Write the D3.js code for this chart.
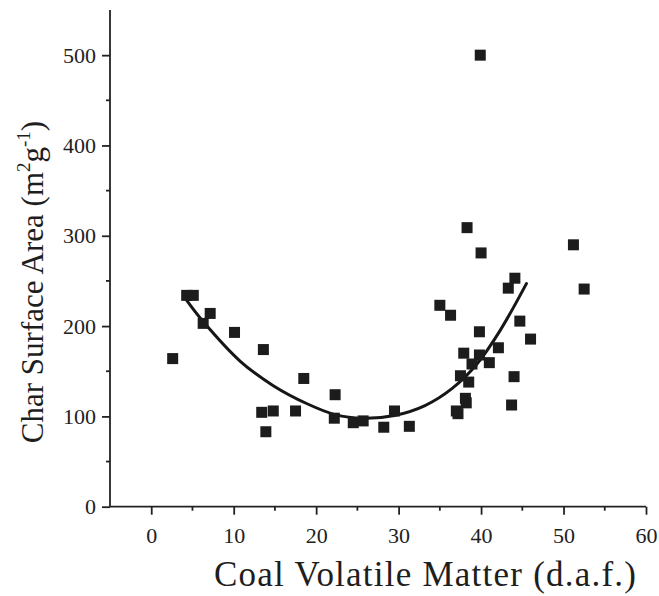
<!DOCTYPE html>
<html>
<head>
<meta charset="utf-8">
<script src="https://cdn.jsdelivr.net/npm/d3@7"></script>
<style>
	body { margin: 0; background: #fff; }
	svg { display: block; }
	.axis path, .axis line { stroke: #222; stroke-width: 1.8; }
	.title { font-family: "Liberation Serif", "Times New Roman", serif; fill: #1e1e1e; }
</style>
</head>
<body>
<div id="chart"></div>
<script>
// coal volatile matter (d.a.f.) vs char surface area
var volatileMatter = [2.6, 4.3, 5.1, 6.3, 7.15, 10.1, 13.6, 18.5, 22.3, 13.4, 14.8, 17.5, 13.9, 22.2,
	24.5, 25.7, 28.2, 29.5, 31.3, 38.3, 40.0, 51.2, 52.5, 44.1, 43.3, 35.0, 36.3, 44.7, 46.0,
	39.8, 37.9, 39.8, 38.9, 41.0, 42.1, 37.5, 38.5, 44.0, 38.1, 38.2, 37.0, 37.2, 43.7, 39.9];
var surfaceArea = [164, 234, 234, 203, 214, 193, 174, 142, 124, 104.5, 106, 106, 83, 98,
	93, 95, 88, 106, 89, 309, 281, 290, 241, 253, 242, 223, 212, 205.5, 185.6,
	193.7, 170, 168, 158, 159.5, 176, 145, 138, 144, 120, 115, 106, 103, 112.6, 500];

// fitted trend line
var fitX = [4.1, 6.3, 10.8, 14.8, 18.9, 22.3, 25.7, 29.5, 33.2, 36.5, 39.5, 42.3, 45.5];
var fitY = [231, 205, 161, 134, 114, 102, 98, 101, 112, 131, 158, 195, 247];

var xTicks = [0, 10, 20, 30, 40, 50, 60];
var xMinorTicks = [5, 15, 25, 35, 45, 55];
var yTicks = [0, 100, 200, 300, 400, 500];
var yMinorTicks = [50, 150, 250, 350, 450];

var width = 659,
		height = 596,
		serif = "'Liberation Serif', 'Times New Roman', serif";

var xScale = d3.scaleLinear().domain([-5, 60]).range([110, 646]);
var yScale = d3.scaleLinear().domain([0, 550]).range([506.7, 10]);

var svg = d3.select("#chart").append("svg")
		.attr("width", width)
		.attr("height", height);

// x axis
var xAxis = svg.append("g")
		.attr("class", "x axis")
		.attr("transform", "translate(0," + yScale(0) + ")")
		.call(d3.axisBottom(xScale).tickValues(xTicks).tickSize(8).tickPadding(13).tickSizeOuter(0));
xAxis.select(".domain").attr("d", "M" + xScale(-5) + ",0H" + xScale(60));
xAxis.selectAll(".minor")
		.data(xMinorTicks)
		.enter().append("line")
		.attr("class", "minor")
		.attr("x1", function(d) { return xScale(d); })
		.attr("x2", function(d) { return xScale(d); })
		.attr("y1", 0)
		.attr("y2", 4);

// y axis
var yAxis = svg.append("g")
		.attr("class", "y axis")
		.attr("transform", "translate(" + xScale(-5) + ",0)")
		.call(d3.axisLeft(yScale).tickValues(yTicks).tickSize(8).tickPadding(6).tickSizeOuter(0));
yAxis.select(".domain").attr("d", "M0," + yScale(0) + "V" + yScale(550));
yAxis.selectAll(".minor")
		.data(yMinorTicks)
		.enter().append("line")
		.attr("class", "minor")
		.attr("x1", 0)
		.attr("x2", -4)
		.attr("y1", function(d) { return yScale(d); })
		.attr("y2", function(d) { return yScale(d); });

svg.selectAll(".axis")
		.attr("font-family", serif)
		.attr("font-size", 22);
svg.selectAll(".axis text")
		.attr("font-family", serif)
		.attr("font-size", 22)
		.attr("fill", "#222");

// trend curve
var line = d3.line()
		.x(function(d) { return xScale(d[0]); })
		.y(function(d) { return yScale(d[1]); })
		.curve(d3.curveCatmullRom);

svg.append("path")
		.datum(d3.zip(fitX, fitY))
		.attr("d", line)
		.attr("fill", "none")
		.attr("stroke", "#161616")
		.attr("stroke-width", 3)
		.attr("stroke-linecap", "round");

// data squares
var s = 11;
svg.append("g").selectAll("rect")
		.data(d3.zip(volatileMatter, surfaceArea))
		.enter().append("rect")
		.attr("x", function(d) { return xScale(d[0]) - s / 2; })
		.attr("y", function(d) { return yScale(d[1]) - s / 2; })
		.attr("width", s)
		.attr("height", s)
		.attr("fill", "#1c1c1c");

// axis titles
svg.append("text")
		.attr("class", "title")
		.attr("x", 425)
		.attr("y", 586)
		.attr("font-size", 35)
		.attr("text-anchor", "middle")
		.attr("textLength", 422)
		.attr("lengthAdjust", "spacing")
		.text("Coal Volatile Matter (d.a.f.)");

var yTitle = svg.append("text")
		.attr("class", "title")
		.attr("font-size", 31)
		.attr("transform", "translate(43,282) rotate(-90)")
		.attr("text-anchor", "middle");
yTitle.append("tspan").text("Char Surface Area (m");
yTitle.append("tspan").attr("dy", -13).attr("font-size", 19).text("2");
yTitle.append("tspan").attr("dy", 13).text("g");
yTitle.append("tspan").attr("dy", -13).attr("font-size", 19).text("-1");
yTitle.append("tspan").attr("dy", 13).text(")");
</script>
</body>
</html>
